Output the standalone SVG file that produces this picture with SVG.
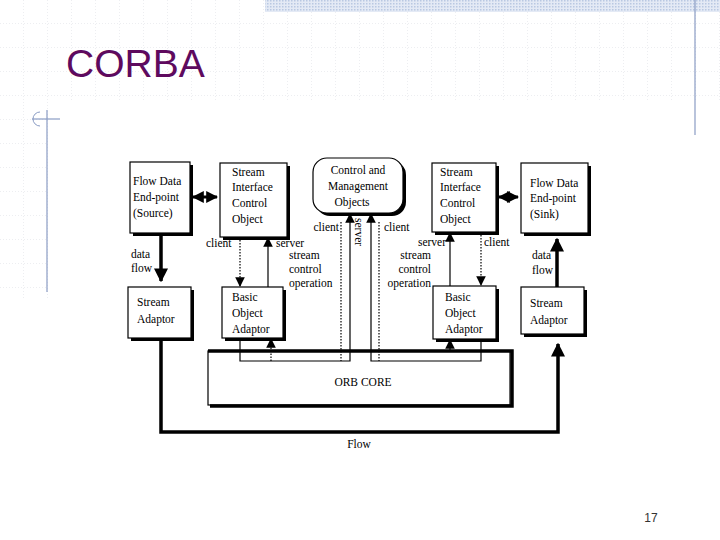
<svg xmlns="http://www.w3.org/2000/svg" width="720" height="540" viewBox="0 0 720 540">
<defs>
<pattern id="grid" width="24" height="24" patternUnits="userSpaceOnUse"><path d="M24 0V24M0 24H24" fill="none" stroke="#d0d4dc" stroke-width="0.8" stroke-dasharray="1 2"/></pattern>
<pattern id="hatch" width="3" height="3" patternUnits="userSpaceOnUse"><rect width="3" height="3" fill="#e4eaf5"/><rect width="1.5" height="1.5" fill="#b9c8e2"/></pattern>
<marker id="ah" viewBox="0 0 10 10" refX="9" refY="5" markerWidth="4" markerHeight="4" orient="auto-start-reverse"><path d="M0 0L10 5L0 10z" fill="#000"/></marker>
<marker id="as" viewBox="0 0 10 10" refX="9" refY="5" markerWidth="8" markerHeight="8" orient="auto-start-reverse"><path d="M0 0L10 5L0 10z" fill="#000"/></marker>
</defs>
<style>
.box{fill:#fff;stroke:#000;stroke-width:1.2}
.sh{fill:#000}
.t{font-family:'Liberation Serif','DejaVu Serif',serif;font-size:11.5px;fill:#000}
.thin{fill:none;stroke:#000;stroke-width:1.2}
.dot{fill:none;stroke:#000;stroke-width:1.2;stroke-dasharray:1.5 1.5}
.thick{fill:none;stroke:#000;stroke-width:3.5}
</style>
<rect width="720" height="540" fill="#fff"/>
<rect x="0" y="0" width="720" height="100" fill="url(#grid)"/>
<rect x="0" y="100" width="48" height="200" fill="url(#grid)"/>
<rect x="265" y="0" width="455" height="12" fill="url(#hatch)"/>
<line x1="695" y1="0" x2="695" y2="135" stroke="#8a9cc4" stroke-width="1.2"/>
<line x1="47" y1="110" x2="47" y2="292" stroke="#8a9cc4" stroke-width="1.2"/>
<line x1="32" y1="119" x2="60" y2="119" stroke="#8a9cc4" stroke-width="1.2"/>
<path d="M40 112a7 7 0 0 0 0 14" fill="none" stroke="#8a9cc4" stroke-width="1"/>
<text x="66" y="77" font-family="'Liberation Sans',sans-serif" font-size="39" fill="#5e0a5e">CORBA</text>

<g id="flowSource"><rect class="sh" x="133" y="165" width="60" height="71"/><rect class="box" x="130" y="162" width="60" height="71"/>
<text class="t" x="133" y="185">Flow Data</text><text class="t" x="133" y="201">End-point</text><text class="t" x="133" y="217">(Source)</text></g>
<g id="sicoL"><rect class="sh" x="223" y="166" width="67" height="74"/><rect class="box" x="220" y="163" width="67" height="74"/>
<text class="t" x="232" y="176">Stream</text><text class="t" x="232" y="191">Interface</text><text class="t" x="232" y="207">Control</text><text class="t" x="232" y="223">Object</text></g>
<g id="cmo"><rect class="sh" x="316" y="161" width="90" height="55" rx="14"/><rect class="box" x="313" y="158" width="90" height="55" rx="14"/>
<text class="t" x="358" y="174" text-anchor="middle">Control and</text><text class="t" x="358" y="190" text-anchor="middle">Management</text><text class="t" x="352" y="206" text-anchor="middle">Objects</text></g>
<g id="sicoR"><rect class="sh" x="435" y="166" width="64" height="69"/><rect class="box" x="432" y="163" width="64" height="69"/>
<text class="t" x="440" y="176">Stream</text><text class="t" x="440" y="191">Interface</text><text class="t" x="440" y="207">Control</text><text class="t" x="440" y="223">Object</text></g>
<g id="flowSink"><rect class="sh" x="524" y="166" width="67" height="70"/><rect class="box" x="521" y="163" width="67" height="70"/>
<text class="t" x="530" y="187">Flow Data</text><text class="t" x="530" y="202">End-point</text><text class="t" x="530" y="218">(Sink)</text></g>
<g id="saL"><rect class="sh" x="131" y="290" width="63" height="51"/><rect class="box" x="128" y="287" width="63" height="51"/>
<text class="t" x="137" y="306">Stream</text><text class="t" x="137" y="323">Adaptor</text></g>
<g id="boaL"><rect class="sh" x="225" y="290" width="61" height="51"/><rect class="box" x="222" y="287" width="61" height="51"/>
<text class="t" x="232" y="301">Basic</text><text class="t" x="232" y="317">Object</text><text class="t" x="232" y="333">Adaptor</text></g>
<g id="boaR"><rect class="sh" x="436" y="289" width="63" height="53"/><rect class="box" x="433" y="286" width="63" height="53"/>
<text class="t" x="445" y="301">Basic</text><text class="t" x="445" y="317">Object</text><text class="t" x="445" y="333">Adaptor</text></g>
<g id="saR"><rect class="sh" x="524" y="290" width="63" height="47"/><rect class="box" x="521" y="287" width="63" height="47"/>
<text class="t" x="530" y="307">Stream</text><text class="t" x="530" y="324">Adaptor</text></g>
<g id="orb"><rect class="box" x="208" y="351" width="302" height="54"/>
<path d="M208 351H512V406H210" class="thick" stroke-width="3"/>
<text class="t" x="363" y="386" text-anchor="middle">ORB CORE</text></g>

<g id="connectors">
<line class="thick" x1="161" y1="233" x2="161" y2="281" marker-end="url(#ah)"/>
<line class="thick" x1="557" y1="287" x2="557" y2="239" marker-end="url(#ah)"/>
<path class="thick" d="M161 338V432H558V344" marker-end="url(#ah)"/>
<line x1="193" y1="197" x2="217" y2="197" stroke="#000" stroke-width="3" marker-start="url(#ah)" marker-end="url(#ah)"/>
<line x1="499" y1="197" x2="518" y2="197" stroke="#000" stroke-width="3" marker-start="url(#ah)" marker-end="url(#ah)"/>
<line class="dot" x1="240" y1="237" x2="240" y2="286" marker-end="url(#as)"/>
<line class="thin" x1="268" y1="287" x2="268" y2="238" marker-end="url(#as)"/>
<line class="thin" x1="450" y1="286" x2="450" y2="233" marker-end="url(#as)"/>
<line class="dot" x1="481" y1="232" x2="481" y2="285" marker-end="url(#as)"/>
<path class="thin" d="M240 338V361H350V214" marker-end="url(#as)"/>
<line class="dot" x1="341" y1="222" x2="341" y2="361"/>
<line class="dot" x1="271" y1="361" x2="271" y2="339" marker-end="url(#as)"/>
<path class="thin" d="M481 339V361H371V214" marker-end="url(#as)"/>
<line class="dot" x1="379" y1="222" x2="379" y2="361"/>
<line class="thin" x1="450" y1="351" x2="450" y2="340" marker-end="url(#as)"/>
</g>
<g id="labels">
<text class="t" x="131" y="258">data</text><text class="t" x="131" y="272">flow</text>
<text class="t" x="532" y="259">data</text><text class="t" x="532" y="274">flow</text>
<text class="t" x="206" y="247">client</text>
<text class="t" x="276" y="247">server</text>
<text class="t" x="289" y="259">stream</text><text class="t" x="289" y="273">control</text><text class="t" x="289" y="287">operation</text>
<text class="t" x="339" y="231" text-anchor="end">client</text>
<text class="t" transform="translate(355,218) rotate(90)">server</text>
<text class="t" x="384" y="231">client</text>
<text class="t" x="446" y="246" text-anchor="end">server</text>
<text class="t" x="484" y="246">client</text>
<text class="t" x="431" y="259" text-anchor="end">stream</text><text class="t" x="431" y="273" text-anchor="end">control</text><text class="t" x="431" y="287" text-anchor="end">operation</text>
<text class="t" x="359" y="448" text-anchor="middle">Flow</text>
<text x="651" y="522" font-family="'Liberation Sans',sans-serif" font-size="12" fill="#333" text-anchor="middle">17</text>
</g>
</svg>
